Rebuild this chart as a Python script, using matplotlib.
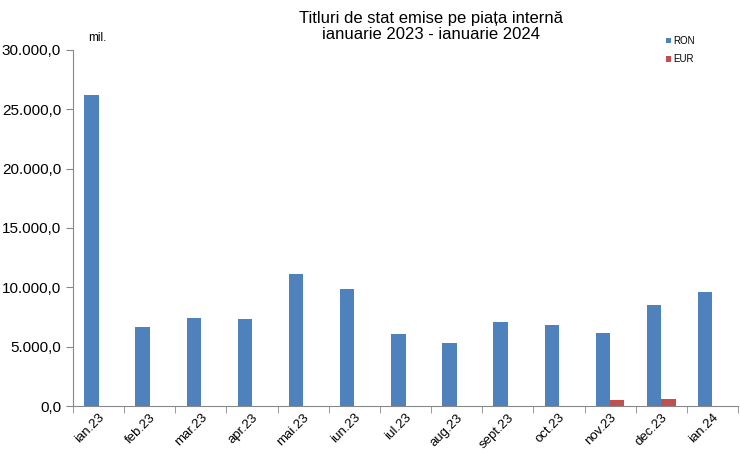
import numpy as np
import matplotlib.pyplot as plt
from matplotlib.ticker import FuncFormatter, FixedLocator

plt.rcParams['font.family'] = ['Liberation Sans', 'DejaVu Sans']

months = ['ian.23', 'feb.23', 'mar.23', 'apr.23', 'mai.23', 'iun.23', 'iul.23',
          'aug.23', 'sept.23', 'oct.23', 'nov.23', 'dec.23', 'ian.24']
ron = [26200, 6650, 7420, 7340, 11120, 9860, 6070, 5310, 7080, 6830, 6150, 8510, 9610]
eur = [0, 0, 0, 0, 0, 0, 0, 0, 0, 0, 500, 580, 0]

fig = plt.figure(figsize=(7.4, 4.5), dpi=100)
ax = fig.add_axes([73 / 740, 44 / 450, 665 / 740, 356 / 450])

x = np.arange(len(months))
w = 0.28
ax.bar(x - w / 2, ron, w, color='#4F81BD', label='RON')
ax.bar(x + w / 2, eur, w, color='#C0504D', label='EUR')

ax.set_xlim(-0.5, len(months) - 0.5)
ax.set_ylim(0, 30000)
ax.set_yticks(np.arange(0, 30001, 5000))
ax.yaxis.set_major_formatter(FuncFormatter(
    lambda v, p: f"{v:,.1f}".replace(',', 'X').replace('.', ',').replace('X', '.')))

ax.set_xticks(x)
ax.set_xticklabels(months, rotation=45, ha='right', rotation_mode='anchor')
ax.tick_params(axis='x', which='major', length=0, pad=4, labelsize=9.5)
ax.xaxis.set_minor_locator(FixedLocator(np.arange(-0.5, len(months), 1)))
ax.tick_params(axis='x', which='minor', length=5, color='#888888')
ax.tick_params(axis='y', length=5, color='#888888', labelsize=11)

for s in ['top', 'right']:
    ax.spines[s].set_visible(False)
for s in ['left', 'bottom']:
    ax.spines[s].set_color('#888888')

fig.text(0.583, 0.975, 'Titluri de stat emise pe piața internă\nianuarie 2023 - ianuarie 2024',
         ha='center', va='top', fontsize=12, linespacing=1.1)
fig.text(88 / 740, 1 - 38 / 450, 'mil.', ha='left', va='center', fontsize=8.5)

ax.legend(loc='upper left', bbox_to_anchor=(657 / 740, 1 - 27 / 450),
          bbox_transform=fig.transFigure, frameon=False, fontsize=7,
          handlelength=0.5, handleheight=0.5, handletextpad=0.3, labelspacing=0.9)

fig.savefig('out.png', dpi=100)
